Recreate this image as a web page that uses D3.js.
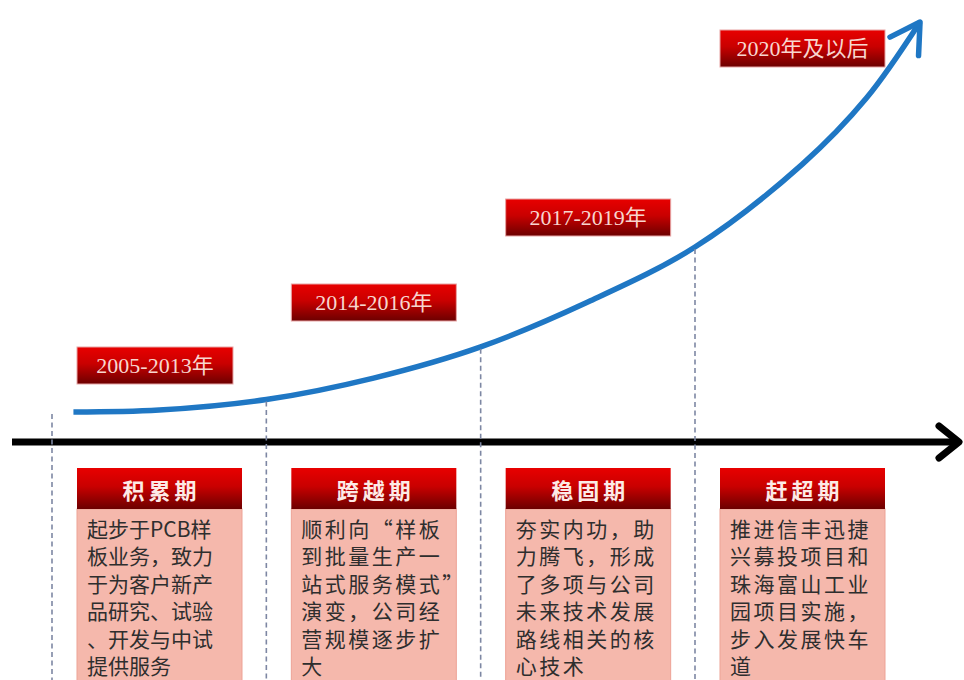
<!DOCTYPE html>
<html>
<head>
<meta charset="utf-8">
<script src="https://cdn.jsdelivr.net/npm/d3@7"></script>
<style>
  html, body { margin: 0; padding: 0; background: #fff; }
  svg { display: block; }
</style>
</head>
<body>
<div id="chart"></div>
<script>
// ---- data ----
const periods = ["2005-2013年", "2014-2016年", "2017-2019年", "2020年及以后"];
const phases = ["积累期", "跨越期", "稳固期", "赶超期"];
const descriptions = [
  ["起步于PCB样", "板业务，致力", "于为客户新产", "品研究、试验", "、开发与中试", "提供服务"],
  ["顺利向“样板", "到批量生产一", "站式服务模式”", "演变，公司经", "营规模逐步扩", "大"],
  ["夯实内功，助", "力腾飞，形成", "了多项与公司", "未来技术发展", "路线相关的核", "心技术"],
  ["推进信丰迅捷", "兴募投项目和", "珠海富山工业", "园项目实施，", "步入发展快车", "道"]
];
// growth curve: stage index -> relative scale
const growthStage = [0.1, 0.5, 1, 1.5, 2, 2.5, 3, 3.5, 3.8, 4.05];
const growthValue = [0, 0.5, 3.2, 8.7, 16.7, 28.2, 42.3, 63.5, 80.5, 100];

// ---- layout ----
const width = 964,
    height = 680,
    axisY = 442;
const labelTop = [347, 284, 199, 30],
    labelWidth = [156, 165, 165, 165],
    labelHeight = 37;
const boxWidth = 165,
    headTop = 468,
    headHeight = 41,
    lineGap = 27.4;
const bodySpacing = [0, 2.5, 2.5, 2.5];

const x = d3.scaleLinear().domain([0, 3]).range([52, 695]);
const y = d3.scaleLinear().domain([0, 100]).range([412, 22]);

const svg = d3.select("#chart")
    .append("svg")
    .attr("width", width)
    .attr("height", height);

const defs = svg.append("defs");

function redGradient(id) {
  const g = defs.append("linearGradient")
      .attr("id", id)
      .attr("x1", 0).attr("y1", 0)
      .attr("x2", 0).attr("y2", 1);
  g.append("stop").attr("offset", "0%").attr("stop-color", "#e80000");
  g.append("stop").attr("offset", "45%").attr("stop-color", "#c90000");
  g.append("stop").attr("offset", "100%").attr("stop-color", "#6c0000");
}
redGradient("redGrad");

function chevron(id, color, w, armX, armY) {
  defs.append("marker")
      .attr("id", id)
      .attr("markerUnits", "userSpaceOnUse")
      .attr("viewBox", "-50 -50 100 100")
      .attr("markerWidth", 100)
      .attr("markerHeight", 100)
      .attr("refX", 0)
      .attr("refY", 0)
      .attr("orient", "auto")
      .style("overflow", "visible")
    .append("path")
      .attr("d", `M${-armX},${-armY}L0,0L${-armX},${armY}`)
      .attr("fill", "none")
      .attr("stroke", color)
      .attr("stroke-width", w)
      .attr("stroke-linecap", "round")
      .attr("stroke-linejoin", "round");
}
chevron("blueHead", "#1f77c4", 5.5, 29, 17);
chevron("blackHead", "#000", 7, 20, 16);

// time axis
svg.append("line")
    .attr("x1", 12)
    .attr("x2", 959)
    .attr("y1", axisY)
    .attr("y2", axisY)
    .attr("stroke", "#000")
    .attr("stroke-width", 7)
    .attr("marker-end", "url(#blackHead)");

// growth curve
const pts = growthStage.map((s, i) => [s, growthValue[i]]);
const line = d3.line()
    .x(d => x(d[0]))
    .y(d => y(d[1]))
    .curve(d3.curveCatmullRom.alpha(0.5));

svg.append("path")
    .datum(pts)
    .attr("d", line)
    .attr("fill", "none")
    .attr("stroke", "#1f77c4")
    .attr("stroke-width", 5.5)
    .attr("marker-end", "url(#blueHead)");

// dashed stage dividers
svg.selectAll("line.divider")
  .data(d3.range(4))
  .enter()
    .append("line")
    .attr("class", "divider")
    .attr("x1", d => x(d))
    .attr("x2", d => x(d))
    .attr("y1", d => {
      const k = growthStage.indexOf(d);
      return y(k >= 0 ? growthValue[k] : 0) + 2;
    })
    .attr("y2", height)
    .attr("stroke", "#7d87a3")
    .attr("stroke-width", 1.6)
    .attr("stroke-dasharray", "5,3.5");

// period labels
const labels = svg.selectAll("g.period")
  .data(periods)
  .enter()
    .append("g")
    .attr("class", "period")
    .attr("transform", (d, i) => `translate(${x(i) + 25},${labelTop[i]})`);

labels.append("rect")
    .attr("width", (d, i) => labelWidth[i])
    .attr("height", labelHeight)
    .attr("fill", "url(#redGrad)")
    .attr("stroke", "#e7a3a3")
    .attr("stroke-width", 1);

labels.append("text")
    .attr("x", (d, i) => labelWidth[i] / 2)
    .attr("y", labelHeight / 2 + 7.5)
    .attr("text-anchor", "middle")
    .attr("fill", "#f8d6cf")
    .style("font-family", "'Liberation Serif', 'Noto Sans CJK SC', serif")
    .style("font-size", "22px")
    .text(d => d);

// phase boxes
const boxes = svg.selectAll("g.phase")
  .data(phases)
  .enter()
    .append("g")
    .attr("class", "phase")
    .attr("transform", (d, i) => `translate(${x(i) + 25},${headTop})`);

boxes.append("rect")
    .attr("y", headHeight)
    .attr("width", boxWidth)
    .attr("height", height - headTop)
    .attr("fill", "#f5b8ac")
    .attr("stroke", "#eda396")
    .attr("stroke-width", 1);

boxes.append("rect")
    .attr("width", boxWidth)
    .attr("height", headHeight)
    .attr("fill", "url(#redGrad)");

boxes.append("text")
    .attr("x", boxWidth / 2 + 2)
    .attr("y", 31)
    .attr("text-anchor", "middle")
    .attr("fill", "#fdeae6")
    .style("font-family", "'Noto Sans CJK SC', sans-serif")
    .style("font-weight", "bold")
    .style("font-size", "22px")
    .style("letter-spacing", "4px")
    .text(d => d);

boxes.each(function(d, i) {
  d3.select(this).append("text")
      .attr("fill", "#2e2e2e")
      .style("font-family", "'Noto Sans CJK SC', sans-serif")
      .style("font-size", "21px")
      .style("letter-spacing", bodySpacing[i] + "px")
    .selectAll("tspan")
    .data(descriptions[i])
    .enter()
      .append("tspan")
      .attr("x", 10)
      .attr("y", (t, j) => 69 + j * lineGap)
      .text(t => t);
});
</script>
</body>
</html>
